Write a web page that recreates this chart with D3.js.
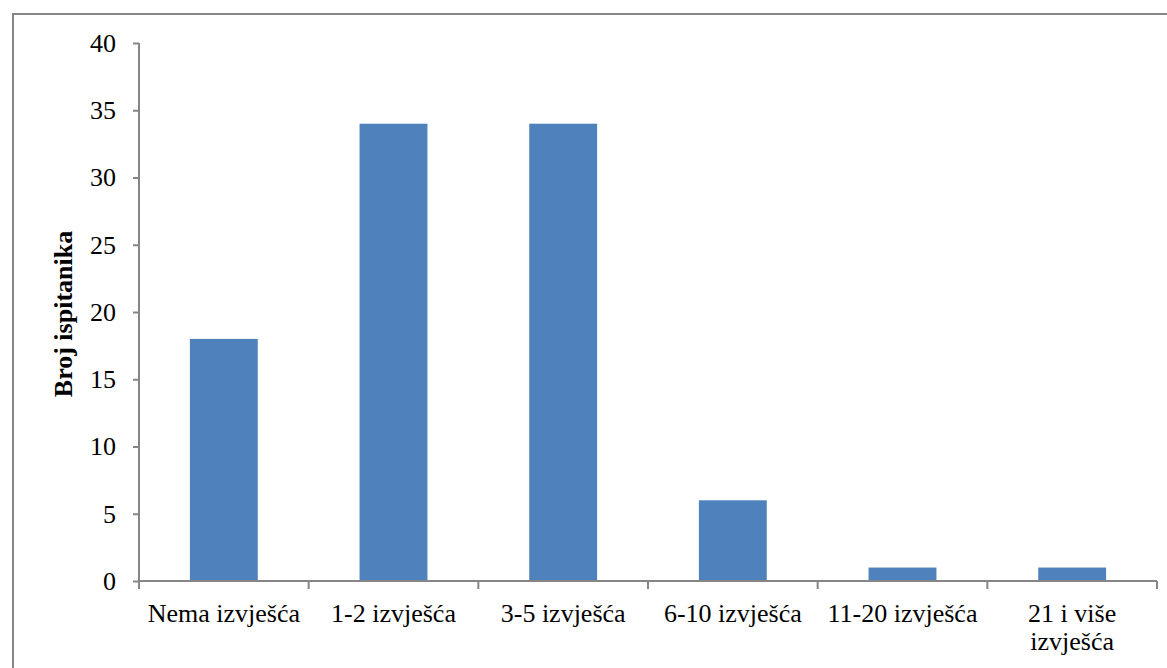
<!DOCTYPE html>
<html>
<head>
<meta charset="utf-8">
<script src="https://cdn.jsdelivr.net/npm/d3@7"></script>
<style>
  body { margin: 0; background: #fff; }
  svg text { font-family: "Liberation Serif", "Times New Roman", serif; fill: #000; }
</style>
</head>
<body>
<div id="chart"></div>
<script>
// Chart data
var categories = ["Nema izvješća", "1-2 izvješća", "3-5 izvješća", "6-10 izvješća", "11-20 izvješća", "21 i više izvješća"];
var counts = [18, 34, 34, 6, 1, 1];
var yTicks = [0, 5, 10, 15, 20, 25, 30, 35, 40];

var svgWidth = 1167;
var svgHeight = 668;
var margin = { top: 43, right: 10, bottom: 87, left: 139 };
var width = 1157 - margin.left;
var height = 581 - margin.top;
var fontSize = "26px";

var svg = d3.select("#chart")
  .append("svg")
  .attr("width", svgWidth)
  .attr("height", svgHeight);

// outer border (cut off at right and bottom)
svg.append("rect")
  .attr("x", 13)
  .attr("y", 14)
  .attr("width", svgWidth + 20)
  .attr("height", svgHeight + 20)
  .attr("fill", "none")
  .attr("stroke", "#868686")
  .attr("stroke-width", 2);

var chartGroup = svg.append("g")
  .attr("transform", `translate(${margin.left}, ${margin.top})`);

var x = d3.scaleBand()
  .domain(categories)
  .range([0, width])
  .padding(0);

var y = d3.scaleLinear()
  .domain([0, 40])
  .range([height, 0]);

// bars
chartGroup.selectAll("rect.bar")
  .data(counts)
  .enter()
  .append("rect")
  .attr("class", "bar")
  .attr("x", (d, i) => x(categories[i]) + x.bandwidth() * 0.3)
  .attr("width", x.bandwidth() * 0.4)
  .attr("y", d => y(d))
  .attr("height", d => height - y(d))
  .attr("fill", "#4F81BD");

// y axis
var leftAxis = d3.axisLeft(y).tickValues(yTicks).tickSize(6).tickPadding(17);
var yAxisG = chartGroup.append("g").call(leftAxis);
yAxisG.attr("font-size", null).attr("font-family", null);
yAxisG.select(".domain").attr("stroke", "#868686").attr("stroke-width", 2).attr("d", `M0,0V${height}`);
yAxisG.selectAll(".tick line").attr("stroke", "#868686").attr("stroke-width", 2);
yAxisG.selectAll(".tick text").style("font-size", fontSize);

// x axis with ticks at category boundaries
var boundaries = d3.range(categories.length + 1).map(i => i * x.step());
var xAxisG = chartGroup.append("g").attr("transform", `translate(0, ${height})`);
xAxisG.append("line")
  .attr("x1", 0).attr("x2", width)
  .attr("stroke", "#868686").attr("stroke-width", 2);
xAxisG.selectAll("line.tick")
  .data(boundaries)
  .enter()
  .append("line")
  .attr("class", "tick")
  .attr("x1", d => d).attr("x2", d => d)
  .attr("y1", 0).attr("y2", 8)
  .attr("stroke", "#868686").attr("stroke-width", 2);

// category labels (wrap the last one)
var labelLines = categories.map(c => c === "21 i više izvješća" ? ["21 i više", "izvješća"] : [c]);
xAxisG.selectAll("text.cat")
  .data(labelLines)
  .enter()
  .append("text")
  .attr("class", "cat")
  .attr("text-anchor", "middle")
  .style("font-size", fontSize)
  .attr("x", (d, i) => x(categories[i]) + x.bandwidth() / 2)
  .attr("y", 41)
  .each(function(lines) {
    var t = d3.select(this);
    var xx = t.attr("x");
    lines.forEach((l, j) => {
      t.append("tspan").attr("x", xx).attr("dy", j === 0 ? 0 : 28).text(l);
    });
  });

// y axis title
chartGroup.append("text")
  .attr("text-anchor", "middle")
  .attr("transform", `translate(-67, ${height / 2 + 2})rotate(-90)`)
  .style("font-size", fontSize)
  .attr("font-weight", "bold")
  .text("Broj ispitanika");
</script>
</body>
</html>
